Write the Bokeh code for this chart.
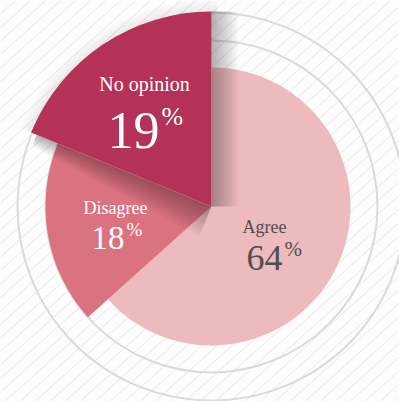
import math

from bokeh.core.properties import value
from bokeh.embed import file_html
from bokeh.models import Range1d
from bokeh.plotting import figure
from bokeh.resources import INLINE

# Survey answers (percent), drawn clockwise from 12 o'clock
categories = ["Agree", "Disagree", "No opinion"]
percents = [64, 18, 19]
pct_labels = ["64", "18", "19"]

# Styling of each slice
slice_colors = ["#edbabe", "#db7280", "#b43158"]
slice_radii = [139, 166, 195]
label_colors = ["#4f4f4f", "#ffffff", "#ffffff"]

W, H = 399, 401
cx, cy = 211, H - 206
FONT = "Liberation Serif"

p = figure(width=W, height=H, x_range=Range1d(0, W), y_range=Range1d(0, H),
           output_backend="svg", toolbar_location=None,
           x_axis_location=None, y_axis_location=None, min_border=0)
p.grid.visible = False
p.outline_line_color = None
p.background_fill_color = "#fdfdfd"
p.border_fill_color = "#fdfdfd"

# diagonal pinstripes behind everything
slope = 0.9
gap = 15
xs_lines, ys_lines = [], []
x0 = -H / slope
while x0 < W:
    xs_lines.append([x0, x0 + H / slope])
    ys_lines.append([0, H])
    x0 += gap
p.multi_line(xs=xs_lines, ys=ys_lines, line_color="#e6e6e6", line_width=1)

# guide rings
p.circle(x=[cx, cx], y=[cy, cy], radius=[166, 194], fill_color=None,
         line_color="#dadada", line_width=2)

# slice angles
total = sum(percents)
starts, ends = [], []
a = math.pi / 2
for v in percents:
    starts.append(a)
    a -= 2 * math.pi * v / total
    ends.append(a)

for i in range(2):
    p.wedge(x=cx, y=cy, radius=slice_radii[i], start_angle=starts[i],
            end_angle=ends[i], direction="clock", fill_color=slice_colors[i],
            line_color=None)

# soft shadow cast by the raised slice along its two straight edges
top = 2
edge_specs = [
    # vertical edge: shadow falls to the right, even width
    (ends[top], (1.0, 0.0), 26, 26, slice_radii[top]),
    # lower edge: shadow falls down-left, widest near the centre
    (starts[top], (-math.sin(starts[top]), math.cos(starts[top])), 32, 12,
     slice_radii[top] - 6),
]
for ang, (nx, ny), w_in, w_out, L in edge_specs:
    ux, uy = math.cos(ang), math.sin(ang)
    steps = 10
    for k in range(1, steps + 1):
        a_in = w_in * k / steps
        a_out = w_out * k / steps
        xs = [cx, cx + L * ux, cx + L * ux + a_out * nx, cx + a_in * nx]
        ys = [cy, cy + L * uy, cy + L * uy + a_out * ny, cy + a_in * ny]
        p.patch(xs, ys, fill_color="black", fill_alpha=0.03, line_color=None)

for k in range(1, 7):
    p.annular_wedge(x=cx, y=cy, inner_radius=slice_radii[top],
                    outer_radius=slice_radii[top] + 2 * k,
                    start_angle=starts[top], end_angle=ends[top] - 0.03,
                    direction="clock", fill_color="black", fill_alpha=0.012,
                    line_color=None)

p.wedge(x=cx, y=cy, radius=slice_radii[top], start_angle=starts[top],
        end_angle=ends[top], direction="clock", fill_color=slice_colors[top],
        line_color=None)

# label layout: (name x, name baseline, name size,
#                number right edge, number baseline, number size,
#                percent-sign baseline, percent-sign size)
layout = [
    (264, 226, 18, 282, 257, 36, 248, 21),
    (115, 207, 18, 124, 237, 33, 229, 19),
    (144, 83, 20, 159, 130, 52, 116, 26),
]
for i, cat in enumerate(categories):
    nx_, nb, ns, rx, rb, rs, pb, ps = layout[i]
    col = label_colors[i]
    p.text(x=[nx_], y=[H - nb], text=[cat], text_align="center",
           text_baseline="alphabetic", text_color=col,
           text_font=value(FONT), text_font_size=f"{ns}px")
    p.text(x=[rx], y=[H - rb], text=[pct_labels[i]], text_align="right",
           text_baseline="alphabetic", text_color=col,
           text_font=value(FONT), text_font_size=f"{rs}px")
    p.text(x=[rx + 2], y=[H - pb], text=["%"], text_align="left",
           text_baseline="alphabetic", text_color=col,
           text_font=value(FONT), text_font_size=f"{ps}px")

open("out.html", "w").write(file_html(p, INLINE))
